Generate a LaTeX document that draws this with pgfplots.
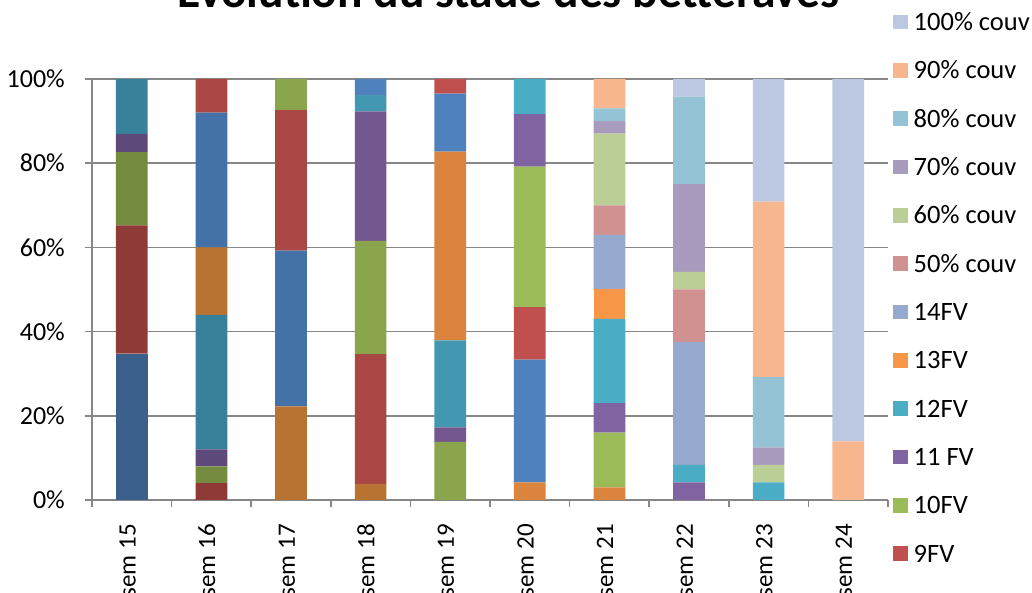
\documentclass[border=0pt]{standalone}
\usepackage{fontspec}
\setmainfont{Carlito}
\usepackage{pgfplots}
\usepackage{pgfplotstable}
\pgfplotsset{compat=1.18}

% Excel-like theme shades
\definecolor{axgray}{HTML}{878787}
\definecolor{cA}{HTML}{3A5F8B}
\definecolor{cB}{HTML}{8F3A37}
\definecolor{cC}{HTML}{748B40}
\definecolor{cD}{HTML}{5E4A7A}
\definecolor{cE}{HTML}{37819A}
\definecolor{cF}{HTML}{B87231}
\definecolor{cG}{HTML}{4472A8}
\definecolor{cH}{HTML}{A94744}
\definecolor{cI}{HTML}{8AA54B}
\definecolor{cJ}{HTML}{72588F}
\definecolor{cK}{HTML}{4397B0}
\definecolor{cM}{HTML}{DB843D}
\definecolor{cL}{HTML}{4F81BD}
\definecolor{cN}{HTML}{C0504D}
\definecolor{cO}{HTML}{9BBB59}
\definecolor{cP}{HTML}{8064A2}
\definecolor{cQ}{HTML}{4BACC6}
\definecolor{cR}{HTML}{F79646}
\definecolor{cS}{HTML}{96AACF}
\definecolor{cT}{HTML}{D19190}
\definecolor{cU}{HTML}{BACE95}
\definecolor{cV}{HTML}{A99BBE}
\definecolor{cW}{HTML}{93C3D4}
\definecolor{cX}{HTML}{F8B68F}
\definecolor{cY}{HTML}{BCC8E1}

% share (%) of each stage per week, stacked bottom to top s1..s25
\pgfplotstableread{
x s1    s2    s3    s4   s5    s6    s7    s8    s9    s10   s11   s12   s13   s14   s15   s16   s17   s18 s19   s20  s21  s22   s23   s24   s25
0 34.78 30.43 17.39 4.35 13.04 0     0     0     0     0     0     0     0     0     0     0     0     0   0     0    0    0     0     0     0
1 0     4     4     4    32    16    32    8     0     0     0     0     0     0     0     0     0     0   0     0    0    0     0     0     0
2 0     0     0     0    0     22.22 37.04 33.33 7.41  0     0     0     0     0     0     0     0     0   0     0    0    0     0     0     0
3 0     0     0     0    0     3.85  0     30.77 26.92 30.77 3.85  0     3.85  0     0     0     0     0   0     0    0    0     0     0     0
4 0     0     0     0    0     0     0     0     13.79 3.45  20.69 44.83 13.79 3.45  0     0     0     0   0     0    0    0     0     0     0
5 0     0     0     0    0     0     0     0     0     0     0     4.17  29.17 12.5  33.33 12.5  8.33  0   0     0    0    0     0     0     0
6 0     0     0     0    0     0     0     0     0     0     0     3     0     0     13    7     20    7   13    7    17   3     3     7     0
7 0     0     0     0    0     0     0     0     0     0     0     0     0     0     0     4.17  4.17  0   29.17 12.5 4.17 20.83 20.83 0     4.17
8 0     0     0     0    0     0     0     0     0     0     0     0     0     0     0     0     4.17  0   0     0    4.17 4.17  16.67 41.67 29.17
9 0     0     0     0    0     0     0     0     0     0     0     0     0     0     0     0     0     0   0     0    0    0     0     13.9  86.1
}\data

\begin{document}
\begin{tikzpicture}
\useasboundingbox (-92pt,-93pt) rectangle (940pt,500pt);
\clip (-92pt,-93pt) rectangle (940pt,500pt);
\begin{axis}[
    at={(0pt,0pt)}, anchor=south west,
    scale only axis, width=796pt, height=421pt,
    ybar stacked, bar width=31.7pt,
    xmin=-0.5, xmax=9.5, ymin=0, ymax=100,
    axis x line*=bottom, axis y line*=left,
    axis line style={axgray, line width=1.6pt},
    tick style={axgray, line width=1.6pt},
    tick align=outside,
    major tick length=7pt, minor tick length=7pt,
    xtick={0,...,9},
    xticklabels={sem 15,sem 16,sem 17,sem 18,sem 19,sem 20,sem 21,sem 22,sem 23,sem 24},
    minor xtick={-0.5,0.5,...,9.5},
    major x tick style={draw=none},
    ytick={0,20,40,60,80,100},
    yticklabels={0\%,20\%,40\%,60\%,80\%,100\%},
    ymajorgrids, grid style={axgray, line width=1.6pt},
    xticklabel style={rotate=90, anchor=east, inner sep=0pt,
                      text height=16pt, text depth=8.5pt,
                      font=\fontsize{25}{25}\selectfont},
    xticklabel shift=17pt,
    yticklabel style={anchor=east, inner sep=0pt, font=\fontsize{26}{26}\selectfont},
    yticklabel shift=20pt,
    title={Evolution du stade des betteraves},
    title style={at={(0.5232,1.1544)}, anchor=base, inner sep=0pt,
                 font=\fontsize{47.5}{47.5}\selectfont\bfseries},
    legend style={at={(1.00628,1.15558)}, anchor=north west, draw=none, fill=none,
                  inner sep=0pt, row sep=31.3pt, column sep=6pt,
                  font=\fontsize{26.5}{26.5}\selectfont,
                  nodes={inner sep=0pt, text height=17pt, text depth=0pt}},
    legend cell align=left,
    reverse legend,
    legend image code/.code={\fill[#1] (0pt,-7.3pt) rectangle (14.5pt,7.3pt);},
]
\addplot[fill=cA, draw=none, forget plot] table[x=x,y=s1]{\data};
\addplot[fill=cB, draw=none, forget plot] table[x=x,y=s2]{\data};
\addplot[fill=cC, draw=none, forget plot] table[x=x,y=s3]{\data};
\addplot[fill=cD, draw=none, forget plot] table[x=x,y=s4]{\data};
\addplot[fill=cE, draw=none, forget plot] table[x=x,y=s5]{\data};
\addplot[fill=cF, draw=none, forget plot] table[x=x,y=s6]{\data};
\addplot[fill=cG, draw=none, forget plot] table[x=x,y=s7]{\data};
\addplot[fill=cH, draw=none, forget plot] table[x=x,y=s8]{\data};
\addplot[fill=cI, draw=none, forget plot] table[x=x,y=s9]{\data};
\addplot[fill=cJ, draw=none, forget plot] table[x=x,y=s10]{\data};
\addplot[fill=cK, draw=none, forget plot] table[x=x,y=s11]{\data};
\addplot[fill=cM, draw=none, forget plot] table[x=x,y=s12]{\data};
\addplot[fill=cL, draw=none, forget plot] table[x=x,y=s13]{\data};
\addplot[fill=cN, draw=none] table[x=x,y=s14]{\data};
\addlegendentry{9FV}
\addplot[fill=cO, draw=none] table[x=x,y=s15]{\data};
\addlegendentry{10FV}
\addplot[fill=cP, draw=none] table[x=x,y=s16]{\data};
\addlegendentry{11 FV}
\addplot[fill=cQ, draw=none] table[x=x,y=s17]{\data};
\addlegendentry{12FV}
\addplot[fill=cR, draw=none] table[x=x,y=s18]{\data};
\addlegendentry{13FV}
\addplot[fill=cS, draw=none] table[x=x,y=s19]{\data};
\addlegendentry{14FV}
\addplot[fill=cT, draw=none] table[x=x,y=s20]{\data};
\addlegendentry{50\% couv}
\addplot[fill=cU, draw=none] table[x=x,y=s21]{\data};
\addlegendentry{60\% couv}
\addplot[fill=cV, draw=none] table[x=x,y=s22]{\data};
\addlegendentry{70\% couv}
\addplot[fill=cW, draw=none] table[x=x,y=s23]{\data};
\addlegendentry{80\% couv}
\addplot[fill=cX, draw=none] table[x=x,y=s24]{\data};
\addlegendentry{90\% couv}
\addplot[fill=cY, draw=none] table[x=x,y=s25]{\data};
\addlegendentry{100\% couv}
\end{axis}
\end{tikzpicture}
\end{document}
